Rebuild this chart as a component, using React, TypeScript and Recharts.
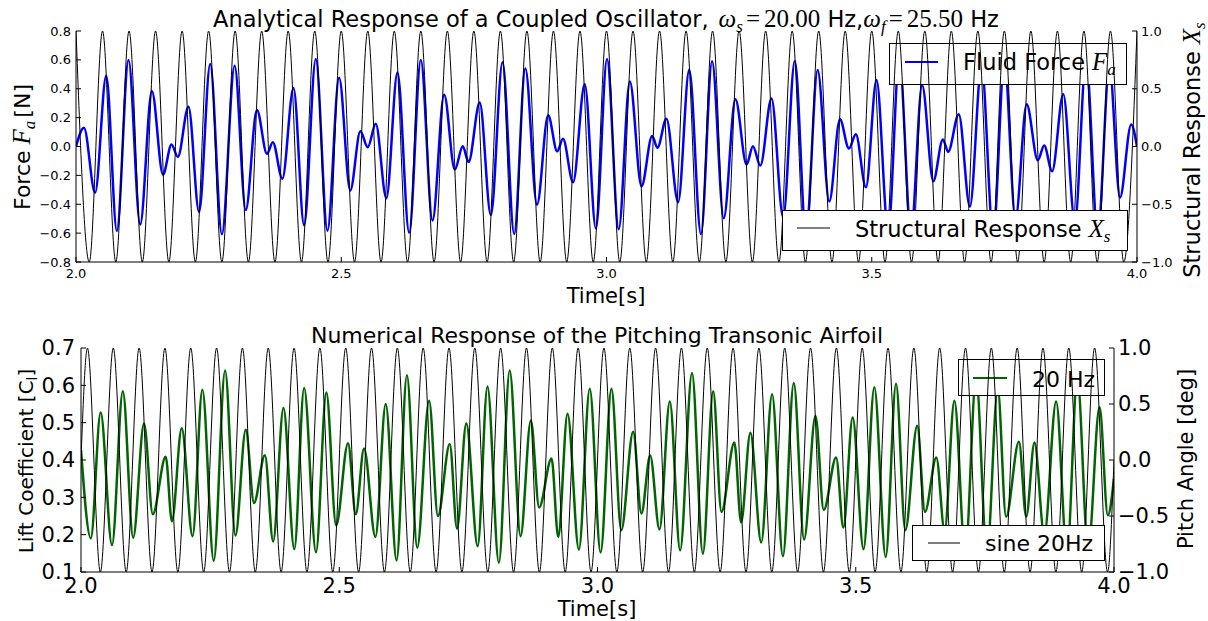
import React from "react";
import { Line, LineChart, XAxis, YAxis } from "recharts";

// ---- top panel: analytical coupled oscillator ----
// structural response X_s (right axis), peaks / troughs
const structTime = [
  2.0, 2.025, 2.05, 2.075, 2.1, 2.125, 2.15, 2.175, 2.2, 2.225, 2.25, 2.275, 2.3, 2.325, 2.35, 2.375,
  2.4, 2.425, 2.45, 2.475, 2.5, 2.525, 2.55, 2.575, 2.6, 2.625, 2.65, 2.675, 2.7, 2.725, 2.75, 2.775,
  2.8, 2.825, 2.85, 2.875, 2.9, 2.925, 2.95, 2.975, 3.0, 3.025, 3.05, 3.075, 3.1, 3.125, 3.15, 3.175,
  3.2, 3.225, 3.25, 3.275, 3.3, 3.325, 3.35, 3.375, 3.4, 3.425, 3.45, 3.475, 3.5, 3.525, 3.55, 3.575,
  3.6, 3.625, 3.65, 3.675, 3.7, 3.725, 3.75, 3.775, 3.8, 3.825, 3.85, 3.875, 3.9, 3.925, 3.95, 3.975, 4.0,
];
const structValue = [
  1, -1, 1, -1, 1, -1, 1, -1, 1, -1, 1, -1, 1, -1, 1, -1,
  1, -1, 1, -1, 1, -1, 1, -1, 1, -1, 1, -1, 1, -1, 1, -1,
  1, -1, 1, -1, 1, -1, 1, -1, 1, -1, 1, -1, 1, -1, 1, -1,
  1, -1, 1, -1, 1, -1, 1, -1, 1, -1, 1, -1, 1, -1, 1, -1,
  1, -1, 1, -1, 1, -1, 1, -1, 1, -1, 1, -1, 1, -1, 1, -1, 1,
];

// fluid force F_a (left axis), local extrema
const forceTime = [
  2.0, 2.015, 2.036, 2.057, 2.077, 2.099, 2.121, 2.143, 2.164, 2.18, 2.192, 2.212, 2.232, 2.253, 2.275, 2.299,
  2.32, 2.341, 2.36, 2.371, 2.389, 2.41, 2.43, 2.452, 2.474, 2.496, 2.517, 2.536, 2.55, 2.565, 2.585, 2.606,
  2.628, 2.65, 2.672, 2.694, 2.714, 2.729, 2.74, 2.761, 2.782, 2.804, 2.826, 2.847, 2.869, 2.89, 2.907, 2.918,
  2.937, 2.959, 2.98, 3.001, 3.023, 3.044, 3.066, 3.086, 3.096, 3.113, 3.135, 3.156, 3.178, 3.199, 3.221, 3.243,
  3.264, 3.276, 3.29, 3.311, 3.333, 3.355, 3.376, 3.398, 3.42, 3.44, 3.457, 3.47, 3.489, 3.509, 3.531, 3.552,
  3.574, 3.595, 3.616, 3.634, 3.644, 3.664, 3.685, 3.707, 3.729, 3.75, 3.771, 3.792, 3.813, 3.825, 3.84, 3.861,
  3.883, 3.904, 3.926, 3.948, 3.968, 3.989, 4.0,
];
const forceValue = [
  0.0, 0.13, -0.32, 0.49, -0.585, 0.6, -0.54, 0.385, -0.195, 0.014, -0.072, 0.276, -0.453, 0.571, -0.608, 0.56,
  -0.44, 0.253, -0.051, 0.03, -0.223, 0.406, -0.546, 0.606, -0.583, 0.476, -0.304, 0.105, -0.005, 0.158, -0.358, 0.513,
  -0.597, 0.599, -0.513, 0.358, -0.16, 0.002, -0.107, 0.304, -0.474, 0.583, -0.606, 0.541, -0.404, 0.216, -0.033, 0.053,
  -0.248, 0.432, -0.567, 0.606, -0.574, 0.45, -0.276, 0.072, -0.009, 0.193, -0.386, 0.532, -0.606, 0.59, -0.497, 0.327,
  -0.125, 0.002, -0.132, 0.332, -0.49, 0.592, -0.6, 0.53, -0.381, 0.188, -0.014, 0.084, -0.283, 0.46, -0.58, 0.61,
  -0.59, 0.425, -0.24, 0.049, -0.037, 0.223, -0.416, 0.56, -0.61, 0.59, -0.5, 0.293, -0.095, 0.007, -0.172, 0.362,
  -0.52, 0.6, -0.6, 0.55, -0.353, 0.153, 0.0,
];

// ---- bottom panel: numerical pitching airfoil ----
// sine 20Hz pitch angle (right axis)
const sineTime = [
  2.0, 2.0125, 2.0375, 2.0625, 2.0875, 2.1125, 2.1375, 2.1625, 2.1875, 2.2125, 2.2375, 2.2625, 2.2875, 2.3125,
  2.3375, 2.3625, 2.3875, 2.4125, 2.4375, 2.4625, 2.4875, 2.5125, 2.5375, 2.5625, 2.5875, 2.6125, 2.6375, 2.6625,
  2.6875, 2.7125, 2.7375, 2.7625, 2.7875, 2.8125, 2.8375, 2.8625, 2.8875, 2.9125, 2.9375, 2.9625, 2.9875, 3.0125,
  3.0375, 3.0625, 3.0875, 3.1125, 3.1375, 3.1625, 3.1875, 3.2125, 3.2375, 3.2625, 3.2875, 3.3125, 3.3375, 3.3625,
  3.3875, 3.4125, 3.4375, 3.4625, 3.4875, 3.5125, 3.5375, 3.5625, 3.5875, 3.6125, 3.6375, 3.6625, 3.6875, 3.7125,
  3.7375, 3.7625, 3.7875, 3.8125, 3.8375, 3.8625, 3.8875, 3.9125, 3.9375, 3.9625, 3.9875, 4.0,
];
const sineValue = [
  0, 1, -1, 1, -1, 1, -1, 1, -1, 1, -1, 1, -1, 1,
  -1, 1, -1, 1, -1, 1, -1, 1, -1, 1, -1, 1, -1, 1,
  -1, 1, -1, 1, -1, 1, -1, 1, -1, 1, -1, 1, -1, 1,
  -1, 1, -1, 1, -1, 1, -1, 1, -1, 1, -1, 1, -1, 1,
  -1, 1, -1, 1, -1, 1, -1, 1, -1, 1, -1, 1, -1, 1,
  -1, 1, -1, 1, -1, 1, -1, 1, -1, 1, -1, 0,
];

// lift coefficient C_l (left axis), local extrema
const liftTime = [
  2.0, 2.019, 2.038, 2.06, 2.081, 2.101, 2.122, 2.139, 2.164, 2.176, 2.195, 2.216, 2.235, 2.257, 2.279, 2.299,
  2.319, 2.335, 2.356, 2.372, 2.392, 2.413, 2.432, 2.455, 2.475, 2.494, 2.517, 2.532, 2.548, 2.57, 2.59, 2.611,
  2.631, 2.651, 2.674, 2.691, 2.714, 2.728, 2.746, 2.768, 2.787, 2.809, 2.83, 2.851, 2.871, 2.887, 2.911, 2.924,
  2.942, 2.964, 2.985, 3.006, 3.027, 3.046, 3.069, 3.085, 3.102, 3.12, 3.14, 3.16, 3.183, 3.204, 3.224, 3.24,
  3.265, 3.278, 3.296, 3.317, 3.338, 3.359, 3.38, 3.4, 3.422, 3.438, 3.462, 3.476, 3.494, 3.515, 3.536, 3.558,
  3.578, 3.596, 3.619, 3.634, 3.656, 3.672, 3.691, 3.712, 3.733, 3.754, 3.775, 3.791, 3.816, 3.83, 3.846, 3.865,
  3.888, 3.909, 3.929, 3.95, 3.972, 3.988, 4.0,
];
const liftValue = [
  0.427, 0.19, 0.527, 0.172, 0.584, 0.192, 0.498, 0.255, 0.409, 0.236, 0.485, 0.196, 0.588, 0.13, 0.64, 0.198,
  0.481, 0.285, 0.413, 0.182, 0.539, 0.161, 0.593, 0.153, 0.581, 0.225, 0.445, 0.255, 0.431, 0.194, 0.55, 0.131,
  0.627, 0.165, 0.559, 0.25, 0.443, 0.216, 0.498, 0.169, 0.597, 0.125, 0.64, 0.196, 0.506, 0.273, 0.404, 0.194,
  0.524, 0.16, 0.591, 0.152, 0.591, 0.212, 0.476, 0.257, 0.412, 0.214, 0.557, 0.158, 0.633, 0.149, 0.584, 0.261,
  0.447, 0.233, 0.473, 0.179, 0.576, 0.142, 0.606, 0.187, 0.518, 0.266, 0.407, 0.219, 0.514, 0.161, 0.595, 0.14,
  0.604, 0.212, 0.492, 0.261, 0.407, 0.21, 0.559, 0.15, 0.62, 0.15, 0.59, 0.248, 0.449, 0.248, 0.447, 0.2,
  0.557, 0.15, 0.62, 0.16, 0.541, 0.252, 0.35,
];

const timeTicks = [2.0, 2.5, 3.0, 3.5, 4.0];
const forceTicks = [-0.8, -0.6, -0.4, -0.2, 0.0, 0.2, 0.4, 0.6, 0.8];
const structTicks = [-1.0, -0.5, 0.0, 0.5, 1.0];
const liftTicks = [0.1, 0.2, 0.3, 0.4, 0.5, 0.6, 0.7];
const pitchTicks = [-1.0, -0.5, 0.0, 0.5, 1.0];

const forceData = forceTime.map((t, i) => ({ t, fa: forceValue[i] }));
const structData = structTime.map((t, i) => ({ t, xs: structValue[i] }));
const liftData = liftTime.map((t, i) => ({ t, cl: liftValue[i] }));
const sineData = sineTime.map((t, i) => ({ t, pitch: sineValue[i] }));

const SANS = "'DejaVu Sans', sans-serif";
const SERIF = "'Liberation Serif', 'DejaVu Serif', serif";
const W = 1208;

const fmt = (v: number) => v.toFixed(1).replace("-", "\u2212");
const blank = () => "";

const abs = (top: number): React.CSSProperties => ({ position: "absolute", left: 0, top });

function LegendBox(props: {
  x: number; y: number; w: number; h: number;
  lx1: number; lx2: number; ly: number; color: string; lw: number;
  children: React.ReactNode;
}) {
  const { x, y, w, h, lx1, lx2, ly, color, lw, children } = props;
  return (
    <g>
      <rect x={x + 0.5} y={y + 0.5} width={w} height={h} fill="#fff" stroke="#000" strokeWidth={1} />
      <line x1={lx1} x2={lx2} y1={ly} y2={ly} stroke={color} strokeWidth={lw} />
      {children}
    </g>
  );
}

// mathtext pieces (italic serif, bigger than the sans text like matplotlib's cm)
const it = { fontFamily: SERIF, fontStyle: "italic" as const, fontSize: 25 };
const sub = { fontFamily: SERIF, fontStyle: "italic" as const, fontSize: 17 };

export default function App() {
  const topTick = { fontSize: 13, fill: "#000", fontFamily: SANS };
  const botTick = { fontSize: 21, fill: "#000", fontFamily: SANS };
  return (
    <div style={{ position: "absolute", left: 0, top: 0, width: W, height: 621, background: "#fff" }}>
      {/* top panel, fluid force + axes */}
      <div style={abs(0)}>
        <LineChart width={W} height={310} data={forceData} margin={{ top: 31, right: 0, bottom: 0, left: 0 }}>
          <XAxis dataKey="t" type="number" domain={[2, 4]} allowDataOverflow ticks={timeTicks} interval={0}
            height={48} tickSize={-5} tickMargin={12} tick={topTick} tickFormatter={fmt} stroke="#000" />
          <XAxis xAxisId="top" orientation="top" dataKey="t" type="number" domain={[2, 4]} allowDataOverflow
            ticks={timeTicks} interval={0} height={0} tickSize={-5} tickFormatter={blank} stroke="#000" />
          <YAxis yAxisId="left" type="number" domain={[-0.8, 0.8]} allowDataOverflow ticks={forceTicks} interval={0}
            width={76} tickSize={-5} tickMargin={10} tick={topTick} tickFormatter={fmt} stroke="#000" />
          <YAxis yAxisId="right" orientation="right" type="number" domain={[-1, 1]} allowDataOverflow ticks={structTicks}
            interval={0} width={71} tickSize={-5} tickMargin={9} tick={{ ...topTick, textAnchor: "start" }}
            tickFormatter={fmt} stroke="#000" />
          <Line yAxisId="left" type="monotone" dataKey="fa" stroke="#0000ff" strokeWidth={2.5} dot={false}
            isAnimationActive={false} />
        </LineChart>
      </div>
      <svg width={W} height={621} style={{ ...abs(0), pointerEvents: "none" }}>
        <LegendBox x={889} y={43} w={237} h={41} lx1={905} lx2={938} ly={62} color="#0000ff" lw={2}>
          <text x={963} y={70} fontSize={22.5} fontFamily={SANS}>
            Fluid Force
            <tspan {...it} dx={7}>F</tspan>
            <tspan {...sub} dy={5}>a</tspan>
          </text>
        </LegendBox>
      </svg>
      {/* top panel, structural response on the twin axis */}
      <div style={abs(0)}>
        <LineChart width={W} height={310} data={structData} margin={{ top: 31, right: 71, bottom: 48, left: 76 }}>
          <XAxis dataKey="t" type="number" domain={[2, 4]} allowDataOverflow hide />
          <YAxis type="number" domain={[-1, 1]} allowDataOverflow hide />
          <Line type="monotone" dataKey="xs" stroke="#000" strokeWidth={1} dot={false} isAnimationActive={false} />
        </LineChart>
      </div>

      {/* bottom panel, lift coefficient + axes */}
      <div style={abs(310)}>
        <LineChart width={W} height={311} data={liftData} margin={{ top: 38, right: 0, bottom: 0, left: 0 }}>
          <XAxis dataKey="t" type="number" domain={[2, 4]} allowDataOverflow ticks={timeTicks} interval={0}
            height={49} tickSize={-5} tickMargin={11} tick={botTick} tickFormatter={fmt} stroke="#000" />
          <XAxis xAxisId="top" orientation="top" dataKey="t" type="number" domain={[2, 4]} allowDataOverflow
            ticks={timeTicks} interval={0} height={0} tickSize={-5} tickFormatter={blank} stroke="#000" />
          <YAxis yAxisId="left" type="number" domain={[0.1, 0.7]} allowDataOverflow ticks={liftTicks} interval={0}
            width={81} tickSize={-5} tickMargin={11} tick={botTick} tickFormatter={fmt} stroke="#000" />
          <YAxis yAxisId="right" orientation="right" type="number" domain={[-1, 1]} allowDataOverflow ticks={pitchTicks}
            interval={0} width={94} tickSize={-5} tickMargin={9} tick={{ ...botTick, textAnchor: "start" }}
            tickFormatter={fmt} stroke="#000" />
          <Line yAxisId="left" type="monotone" dataKey="cl" stroke="#006400" strokeWidth={2.5} dot={false}
            isAnimationActive={false} />
        </LineChart>
      </div>
      <svg width={W} height={621} style={{ ...abs(0), pointerEvents: "none" }}>
        <LegendBox x={958} y={359} w={146} h={36} lx1={973} lx2={1007} ly={378} color="#006400" lw={2}>
          <text x={1032} y={387} fontSize={22} fontFamily={SANS}>20 Hz</text>
        </LegendBox>
      </svg>
      {/* bottom panel, sine pitch on the twin axis */}
      <div style={abs(310)}>
        <LineChart width={W} height={311} data={sineData} margin={{ top: 38, right: 94, bottom: 49, left: 81 }}>
          <XAxis dataKey="t" type="number" domain={[2, 4]} allowDataOverflow hide />
          <YAxis type="number" domain={[-1, 1]} allowDataOverflow hide />
          <Line type="monotone" dataKey="pitch" stroke="#000" strokeWidth={1} dot={false} isAnimationActive={false} />
        </LineChart>
      </div>

      {/* second legends, titles, axis labels */}
      <svg width={W} height={621} style={{ ...abs(0), pointerEvents: "none" }}>
        <LegendBox x={782} y={210} w={345} h={40} lx1={797} lx2={830} ly={228} color="#000" lw={1}>
          <text x={855} y={237} fontSize={22.5} fontFamily={SANS}>
            Structural Response
            <tspan {...it} dx={7}>X</tspan>
            <tspan {...sub} dy={5}>s</tspan>
          </text>
        </LegendBox>
        <LegendBox x={912} y={525} w={192} h={35} lx1={928} lx2={960} ly={543} color="#000" lw={1}>
          <text x={985} y={551} fontSize={22} fontFamily={SANS}>sine 20Hz</text>
        </LegendBox>

        <text x={606} y={27} fontSize={22.5} fontFamily={SANS} textAnchor="middle">
          Analytical Response of a Coupled Oscillator,
          <tspan {...it} dx={10}>ω</tspan>
          <tspan {...sub} dy={5}>s</tspan>
          <tspan fontFamily={SERIF} fontSize={25} dy={-5} dx={3}>=</tspan>
          <tspan fontFamily={SERIF} fontSize={25} dx={4}>20.00</tspan>
          <tspan> Hz,</tspan>
          <tspan {...it}>ω</tspan>
          <tspan {...sub} dy={5}>f</tspan>
          <tspan fontFamily={SERIF} fontSize={25} dy={-5} dx={3}>=</tspan>
          <tspan fontFamily={SERIF} fontSize={25} dx={4}>25.50</tspan>
          <tspan> Hz</tspan>
        </text>
        <text x={606} y={303} fontSize={21} fontFamily={SANS} textAnchor="middle">Time[s]</text>
        <text transform="translate(30,147) rotate(-90)" fontSize={22} fontFamily={SANS} textAnchor="middle">
          Force
          <tspan {...it} dx={6}>F</tspan>
          <tspan {...sub} dy={5}>a</tspan>
          <tspan dy={-5} dx={3}>[N]</tspan>
        </text>
        <text transform="translate(1200,150) rotate(-90)" fontSize={22.5} fontFamily={SANS} textAnchor="middle">
          Structural Response
          <tspan {...it} dx={7}>X</tspan>
          <tspan {...sub} dy={5}>s</tspan>
        </text>

        <text x={597} y={343} fontSize={22} fontFamily={SANS} textAnchor="middle">
          Numerical Response of the Pitching Transonic Airfoil
        </text>
        <text x={597} y={616} fontSize={21} fontFamily={SANS} textAnchor="middle">Time[s]</text>
        <text transform="translate(33,461) rotate(-90)" fontSize={20} fontFamily={SANS} textAnchor="middle">
          Lift Coefficient [C<tspan fontSize={14} dy={4}>l</tspan><tspan dy={-4}>]</tspan>
        </text>
        <text transform="translate(1193,459) rotate(-90)" fontSize={21} fontFamily={SANS} textAnchor="middle">
          Pitch Angle [deg]
        </text>
      </svg>
    </div>
  );
}
